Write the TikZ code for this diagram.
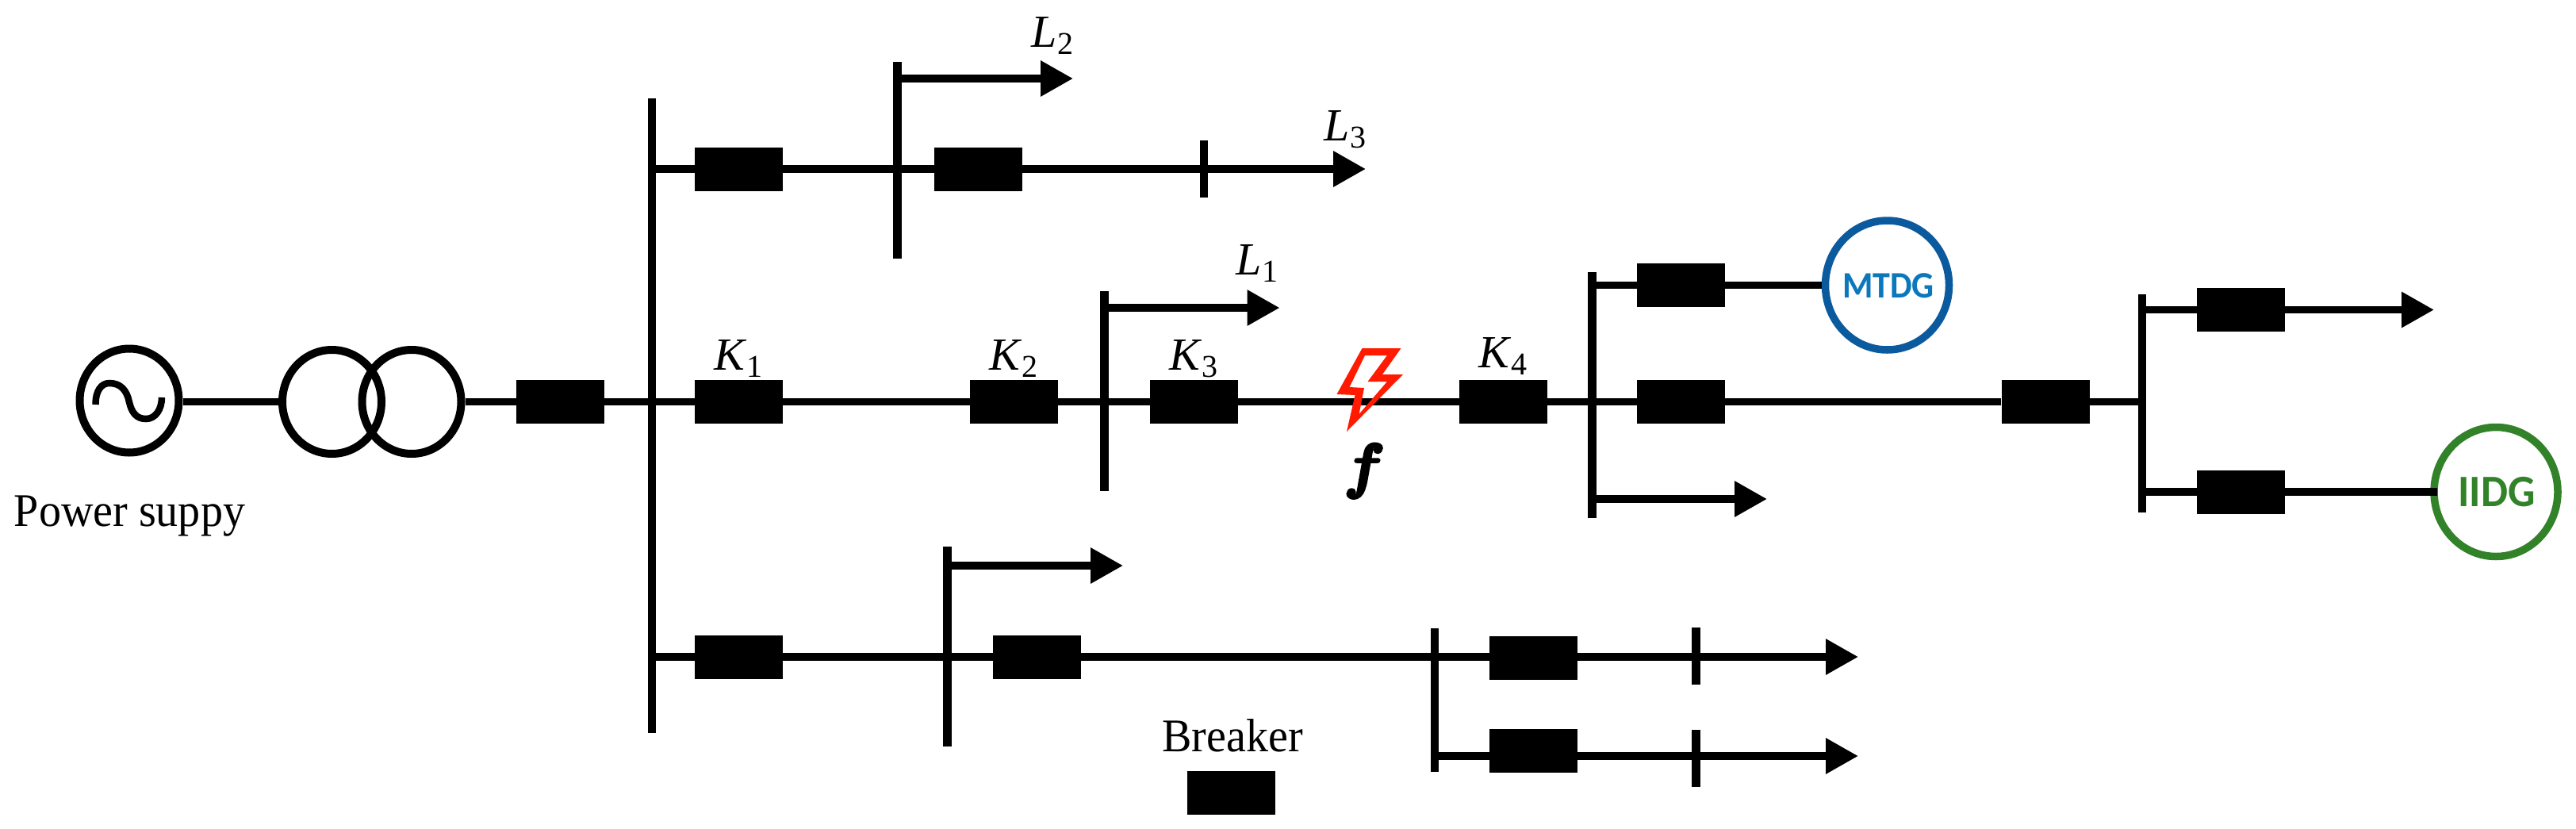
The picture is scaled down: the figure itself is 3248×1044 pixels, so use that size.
\documentclass[tikz,border=0pt]{standalone}
\usepackage{fontspec}
\usetikzlibrary{arrows.meta,shapes.geometric}
\setmainfont{Liberation Serif}
\newfontfamily\dgfont{Carlito}[Scale=1]
\definecolor{mtdgring}{HTML}{0B5A9E}
\definecolor{mtdgtext}{HTML}{0C78BC}
\definecolor{iidgcol}{HTML}{318229}
\definecolor{boltred}{HTML}{FF1A00}
\newcommand{\symb}[2]{\textit{#1}\raisebox{-4.5pt}{\fontsize{20}{20}\selectfont #2}}
\tikzset{
  x=0.5pt,y=-0.5pt,
  wire/.style={line width=4.75pt,black},
  load/.style={wire,-{Triangle[length=20.5pt,width=21.5pt]}},
  breaker/.style={rectangle,fill=black,inner sep=0pt,minimum width=55.5pt,minimum height=27.5pt},
  bus/.style={rectangle,fill=black,inner sep=0pt,minimum width=5.25pt,minimum height=#1},
  tick/.style={rectangle,fill=black,inner sep=0pt,minimum width=5.25pt,minimum height=#1},
  machine/.style={ellipse,draw=black,line width=5pt,fill=none,inner sep=0pt,minimum width=62.5pt,minimum height=65.5pt},
  dg/.style={ellipse,line width=4.75pt,inner sep=0pt,minimum width=78pt,minimum height=81.5pt},
  label/.style={anchor=base,inner sep=0pt,font=\fontsize{29}{29}\selectfont},
  plain/.style={anchor=base,inner sep=0pt,xscale=0.95,font=\fontsize{29.5}{29.5}\selectfont},
}
\begin{document}
\begin{tikzpicture}
\useasboundingbox (0,0) rectangle (3248,1044);
% machines
\node[machine] (gen) at (163,505) {};
\node[machine] (t1) at (418.5,506.5) {};
\node[machine] (t2) at (519,506.5) {};
\draw[line width=4.25pt] (120.5,510) .. controls (120.5,492) and (128,483) .. (138,483)
  .. controls (152,483) and (160,492) .. (163,507)
  .. controls (166,520) and (172,528) .. (184,528)
  .. controls (196,528) and (204,516) .. (204,501);
% buses
\node[bus=400pt] (b1) at (822,524) {};
\node[bus=124pt] (b2) at (1131.5,202) {};
\node[bus=126pt] (b3) at (1392.5,493) {};
\node[bus=155pt] (b4) at (2007.5,498) {};
\node[bus=137.5pt] (b5) at (2701,508.5) {};
\node[bus=126pt] (b6) at (1194.5,815) {};
\node[bus=90.5pt] (b7) at (1809,882.5) {};
% ticks
\node[tick=36pt] (t3) at (1518,213) {};
\node[tick=36pt] (t4) at (2138.5,827) {};
\node[tick=36pt] (t5) at (2138.5,956) {};
% breakers
\node[breaker] (k0) at (706.5,506.5) {};
\node[breaker] (k1) at (931.5,506.5) {};
\node[breaker] (k2) at (1278.5,506.5) {};
\node[breaker] (k3) at (1505.5,506.5) {};
\node[breaker] (k4) at (1895.5,506.5) {};
\node[breaker] (k5) at (2119.5,506.5) {};
\node[breaker] (k6) at (2579,506.5) {};
\node[breaker] (k7) at (2119.5,359.5) {};
\node[breaker] (k8) at (931.5,213) {};
\node[breaker] (k9) at (1233.5,213) {};
\node[breaker] (k10) at (931.5,828) {};
\node[breaker] (k11) at (1307.5,828) {};
\node[breaker] (k12) at (1933,829) {};
\node[breaker] (k13) at (1933,946.5) {};
\node[breaker] (k14) at (2825.5,390.5) {};
\node[breaker] (k15) at (2825.5,620) {};
\node[breaker] (legend) at (1552.5,999.5) {};
% DG units
\node[dg,draw=mtdgring] (mtdg) at (2379.5,359.5) {};
\node[dg,draw=iidgcol] (iidg) at (3147,620) {};
\node[inner sep=0pt,yscale=1.07,text=mtdgtext,font=\dgfont\bfseries\fontsize{22}{22}\selectfont] (mtdgl) at (2381,360) {MTDG};
\node[inner sep=0pt,yscale=1.05,text=iidgcol,font=\dgfont\bfseries\fontsize{27}{27}\selectfont] (iidgl) at (3148,620) {IIDG};
% free ends
\coordinate (aL2) at (1353,99);
\coordinate (aL3) at (1722,213);
\coordinate (aL1) at (1613.5,388);
\coordinate (a4) at (2228,629);
\coordinate (a5) at (3069,390.5);
\coordinate (a6) at (1416,713);
\coordinate (a7) at (2343,828);
\coordinate (a8) at (2343,953);
\coordinate (iidgin) at (3073,620);
% connectors
\draw[wire] (gen.east |- t1) -- (t1.west);
\draw[wire] (t2.east) -- (k0);
\draw[wire] (k0) -- (k6);
\draw[wire] (k6) -- (b5 |- k6);
\draw[wire] (b4 |- k7) -- (k7);
\draw[wire] (k7) -- (mtdg.west);
\draw[wire] (b1 |- k8) -- (k8);
\draw[wire] (k8) -- (k9);
\draw[wire] (b1 |- k10) -- (k10);
\draw[wire] (k10) -- (k11);
\draw[wire] (k11) -- (b7 |- k11);
\draw[wire] (b7 |- a7) -- (k12 |- a7);
\draw[wire] (b5 |- k15) -- (k15);
\draw[wire] (k15) -- (iidgin);
\draw[load] (b2 |- aL2) -- (aL2);
\draw[load] (k9) -- (aL3);
\draw[load] (b3 |- aL1) -- (aL1);
\draw[load] (b4 |- a4) -- (a4);
\draw[load] (b5 |- a5) -- (a5);
\draw[load] (b6 |- a6) -- (a6);
\draw[load] (k12 |- a7) -- (a7);
\draw[load] (b7 |- a8) -- (a8);
% fault bolt
\fill[boltred,even odd rule]
  (1717.5,439) -- (1766.5,439) -- (1743,472) -- (1769,472) -- (1698,544) -- (1708.5,498) -- (1685.5,497) -- cycle
  (1721,448) -- (1749,448) -- (1724.5,481) -- (1749,481) -- (1713.6,522) -- (1720,489) -- (1701.5,488) -- cycle;
% labels
\node[plain] (ps) at (163.5,663) {Power suppy};
\node[plain] (bk) at (1554,947) {Breaker};
\node[label] (lk1) at (931,466) {\symb{K}{1}};
\node[label] (lk2) at (1278,466) {\symb{K}{2}};
\node[label] (lk3) at (1505,466) {\symb{K}{3}};
\node[label] (lk4) at (1895,463) {\symb{K}{4}};
\node[label] (ll1) at (1585,346) {\symb{L}{1}};
\node[label] (ll2) at (1327,59) {\symb{L}{2}};
\node[label] (ll3) at (1696,177) {\symb{L}{3}};
\node[anchor=base,inner sep=0pt,scale=1.55] (lf) at (1716,613) {\fontencoding{OML}\fontfamily{cmm}\fontseries{b}\fontshape{it}\fontsize{24.88}{25}\selectfont\special{pdf: code q 2 Tr 0.9 w}f\special{pdf: code Q}};
\end{tikzpicture}
\end{document}
